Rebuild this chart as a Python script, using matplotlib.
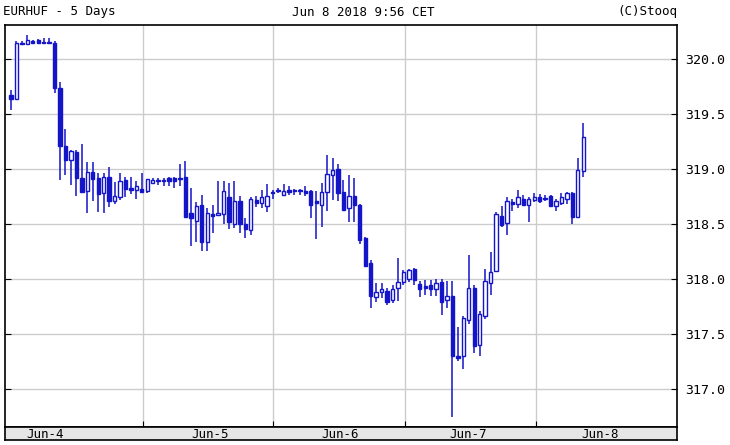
import matplotlib
matplotlib.use("Agg")
import matplotlib.pyplot as plt
from matplotlib.patches import Rectangle

opens = [319.67,319.64,320.15,320.14,320.16,320.17,320.15,320.15,320.15,319.74,
         319.21,319.08,319.15,318.92,318.80,318.97,318.92,318.78,318.93,318.71,
         318.74,318.90,318.83,318.81,318.82,318.80,318.87,318.89,318.90,318.92,
         318.92,318.91,318.93,318.60,318.53,318.67,318.33,318.59,318.58,318.59,
         318.74,318.50,318.71,318.50,318.44,318.72,318.69,318.66,318.79,318.80,
         318.76,318.81,318.80,318.80,318.80,318.80,318.71,318.67,318.79,318.94,
         319.00,318.79,318.64,318.75,318.67,318.37,318.14,317.83,317.88,317.89,
         317.81,317.92,317.97,318.00,318.09,317.95,317.93,317.94,317.91,317.97,
         317.81,317.84,317.30,317.30,317.62,317.92,317.40,317.66,317.96,318.07,
         318.57,318.51,318.70,318.68,318.73,318.67,318.72,318.74,318.73,318.75,
         318.66,318.69,318.73,318.78,318.56,318.98]
closes = [319.64,320.15,320.14,320.17,320.15,320.15,320.15,320.15,319.74,319.21,
          319.08,319.16,318.92,318.79,318.97,318.91,318.77,318.93,318.71,318.75,
          318.89,318.82,318.81,318.84,318.79,318.91,318.90,318.90,318.89,318.89,
          318.89,318.92,318.56,318.55,318.66,318.33,318.60,318.57,318.60,318.80,
          318.52,318.71,318.50,318.45,318.73,318.69,318.74,318.75,318.78,318.81,
          318.80,318.79,318.80,318.80,318.78,318.67,318.69,318.79,318.95,318.99,
          318.78,318.63,318.75,318.67,318.35,318.12,317.84,317.88,317.91,317.79,
          317.91,317.97,318.06,318.08,317.99,317.91,317.92,317.91,317.96,317.79,
          317.84,317.30,317.28,317.64,317.92,317.39,317.68,317.98,318.06,318.59,
          318.49,318.71,318.68,318.74,318.67,318.73,318.74,318.71,318.73,318.66,
          318.71,318.74,318.78,318.56,318.99,319.29]
highs = [319.72,320.16,320.16,320.22,320.17,320.18,320.19,320.19,320.16,319.79,
         319.36,319.17,319.17,319.23,319.06,319.06,318.96,318.96,319.02,318.88,
         318.96,318.93,318.93,318.89,318.96,318.91,318.92,318.92,318.92,318.93,
         318.93,319.04,319.07,318.83,318.70,318.76,318.64,318.67,318.89,318.89,
         318.87,318.89,318.75,318.55,318.74,318.75,318.81,318.86,318.81,318.83,
         318.86,318.84,318.82,318.82,318.84,318.81,318.80,318.87,319.13,319.10,
         319.04,318.90,318.94,318.92,318.68,318.38,318.17,317.96,317.96,317.92,
         317.94,318.19,318.08,318.09,318.10,317.98,317.99,317.99,318.00,318.00,
         317.98,317.98,317.56,317.66,318.22,317.94,317.71,318.09,318.24,318.61,
         318.66,318.74,318.73,318.81,318.76,318.74,318.78,318.77,318.76,318.76,
         318.73,318.78,318.79,318.79,319.10,319.42]
lows = [319.54,319.64,320.13,320.14,320.14,320.14,320.14,320.14,319.69,318.90,
        318.94,318.85,318.75,318.78,318.60,318.71,318.61,318.60,318.65,318.68,
        318.72,318.74,318.77,318.73,318.78,318.78,318.86,318.85,318.84,318.84,
        318.83,318.84,318.56,318.30,318.33,318.25,318.25,318.42,318.57,318.50,
        318.45,318.46,318.42,318.37,318.40,318.65,318.64,318.61,318.73,318.78,
        318.75,318.76,318.76,318.76,318.75,318.55,318.36,318.47,318.62,318.72,
        318.71,318.62,318.52,318.52,318.32,318.12,317.73,317.79,317.82,317.76,
        317.78,317.80,317.94,317.97,317.94,317.83,317.85,317.84,317.84,317.67,
        317.73,316.74,317.25,317.18,317.59,317.32,317.30,317.63,317.85,318.06,
        318.47,318.40,318.62,318.64,318.66,318.52,318.70,318.69,318.71,318.65,
        318.62,318.67,318.68,318.50,318.55,318.93]

day_bounds = [24.2, 48.1, 72.3, 96.3]
day_labels = ["Jun-4", "Jun-5", "Jun-6", "Jun-7", "Jun-8"]
day_label_pos = [6.2, 36.5, 60.4, 83.9, 108.0]
yticks = [317.0, 317.5, 318.0, 318.5, 319.0, 319.5, 320.0]

blue = "#1414c8"
fig = plt.figure(figsize=(7.3, 4.45), dpi=100)
W, H = 730, 445
ax = fig.add_axes([5 / W, (H - 427) / H, 672 / W, (427 - 25) / H])
ax.set_xlim(-1.1, 122.2)
ax.set_ylim(316.65, 320.31)
for y in yticks:
    ax.axhline(y, color="#cccccc", lw=1, zorder=0)
for x in day_bounds:
    ax.axvline(x, color="#cccccc", lw=1, zorder=0)

bw = 0.62
for i, (o, c, h, l) in enumerate(zip(opens, closes, highs, lows)):
    ax.plot([i, i], [l, h], color=blue, lw=1.1, zorder=2, solid_capstyle="butt")
    bottom = min(o, c)
    height = max(abs(c - o), 0.008)
    fc = blue if c < o else "white"
    ax.add_patch(Rectangle((i - bw / 2, bottom), bw, height, facecolor=fc,
                           edgecolor=blue, lw=1.0, zorder=3))

ax.yaxis.tick_right()
ax.set_yticks(yticks)
ax.set_yticklabels([f"{v:.1f}" for v in yticks], fontsize=9.5, family="DejaVu Sans Mono")
ax.tick_params(axis="y", direction="in", length=4, pad=6, right=True, left=True)
ax.set_xticks(day_bounds)
ax.set_xticklabels([])
ax.tick_params(axis="x", direction="in", length=4)
for s in ax.spines.values():
    s.set_color("black")
    s.set_linewidth(1.2)

# bottom strip with date labels
sx = fig.add_axes([5 / W, (H - 440) / H, 672 / W, 13 / H])
sx.set_xlim(ax.get_xlim())
sx.set_ylim(0, 1)
sx.set_facecolor("#e6e6e6")
sx.set_xticks([]); sx.set_yticks([])
for s in sx.spines.values():
    s.set_linewidth(1.2)
for p, t in zip(day_label_pos, day_labels):
    sx.text(p, 0.45, t, ha="center", va="center", fontsize=9, family="DejaVu Sans Mono")

fig.text(3 / W, 1 - 12 / H, "EURHUF - 5 Days", fontsize=9, family="DejaVu Sans Mono", va="center")
fig.text(363 / W, 1 - 12 / H, "Jun 8 2018 9:56 CET", fontsize=9, family="DejaVu Sans Mono",
         va="center", ha="center")
fig.text(677 / W, 1 - 12 / H, "(C)Stooq", fontsize=9, family="DejaVu Sans Mono",
         va="center", ha="right")
fig.savefig("out.png", dpi=100)
